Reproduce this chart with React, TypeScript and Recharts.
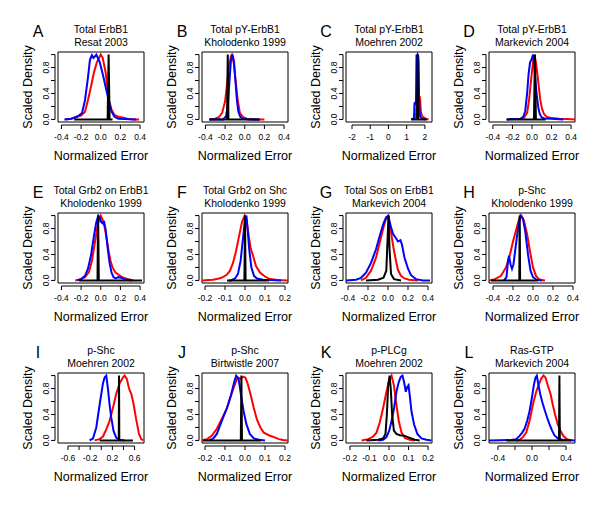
import { LineChart, Line, XAxis, YAxis, ReferenceArea, ReferenceLine } from 'recharts';

const FONT = '"Liberation Sans", Arial, Helvetica, sans-serif';

// panel text
const LETTERS = ['A', 'B', 'C', 'D', 'E', 'F', 'G', 'H', 'I', 'J', 'K', 'L'];
const TITLES_1 = [
  'Total ErbB1', 'Total pY-ErbB1', 'Total pY-ErbB1', 'Total pY-ErbB1',
  'Total Grb2 on ErbB1', 'Total Grb2 on Shc', 'Total Sos on ErbB1', 'p-Shc',
  'p-Shc', 'p-Shc', 'p-PLCg', 'Ras-GTP',
];
const TITLES_2 = [
  'Resat 2003', 'Kholodenko 1999', 'Moehren 2002', 'Markevich 2004',
  'Kholodenko 1999', 'Kholodenko 1999', 'Markevich 2004', 'Kholodenko 1999',
  'Moehren 2002', 'Birtwistle 2007', 'Moehren 2002', 'Markevich 2004',
];

// ticks
const Y_TICKS = [0, 0.2, 0.4, 0.6, 0.8, 1];
const Y_LABELED = [0, 0.4, 0.8];
const X_TICKS_04 = [-0.4, -0.2, 0, 0.2, 0.4];
const X_TICKS_02 = [-0.2, -0.1, 0, 0.1, 0.2];
const X_TICKS_2 = [-2, -1, 0, 1, 2];
const X_TICKS_06 = [-0.6, -0.4, -0.2, 0, 0.2, 0.4, 0.6];
const X_LABELED_06 = [-0.6, -0.2, 0.2, 0.6];
const X_LABELED_L = [-0.4, 0, 0.4];

// A
const A_RED_X = [-0.36, -0.3, -0.25, -0.2, -0.16, -0.13, -0.1, -0.07, -0.04, -0.01, 0.0, 0.02, 0.05, 0.08, 0.11, 0.14, 0.18, 0.22, 0.27, 0.33, 0.39];
const A_RED_Y = [0, 0.01, 0.04, 0.06, 0.12, 0.3, 0.5, 0.72, 0.88, 0.97, 1.0, 0.95, 0.72, 0.32, 0.15, 0.07, 0.04, 0.03, 0.01, 0, 0];
const A_BLUE_X = [-0.37, -0.3, -0.24, -0.19, -0.16, -0.13, -0.11, -0.09, -0.075, -0.06, -0.045, -0.03, -0.01, 0.02, 0.05, 0.08, 0.11, 0.14, 0.18, 0.25, 0.36];
const A_BLUE_Y = [0, 0.01, 0.04, 0.1, 0.3, 0.65, 0.92, 0.99, 0.95, 0.97, 1.0, 0.95, 0.88, 0.7, 0.5, 0.3, 0.12, 0.04, 0.01, 0.005, 0];
const A_BLK_X = [-0.27, 0.07, 0.076, 0.08, 0.084, 0.09, 0.12];
const A_BLK_Y = [0, 0, 0.6, 1.0, 0.6, 0, 0];

// B
const B_RED_X = [-0.36, -0.3, -0.26, -0.23, -0.2, -0.18, -0.16, -0.14, -0.13, -0.11, -0.09, -0.07, -0.05, -0.02, 0.02, 0.1, 0.2];
const B_RED_Y = [0, 0.01, 0.04, 0.1, 0.28, 0.55, 0.82, 0.98, 1.0, 0.85, 0.55, 0.28, 0.1, 0.04, 0.01, 0, 0];
const B_BLUE_X = [-0.36, -0.22, -0.19, -0.17, -0.155, -0.14, -0.125, -0.11, -0.095, -0.08, -0.065, -0.045, -0.02, 0.05, 0.15];
const B_BLUE_Y = [0, 0, 0.05, 0.25, 0.6, 0.92, 1.0, 0.9, 0.6, 0.3, 0.12, 0.04, 0.01, 0, 0];
const B_BLK_X = [-0.36, -0.18, -0.176, -0.173, -0.17, -0.166, 0.15];
const B_BLK_Y = [0, 0, 0.6, 1.0, 0.6, 0, 0];

// C
const C_RED_X = [1.35, 1.5, 1.58, 1.62, 1.65, 1.68, 1.71, 1.74, 1.78, 1.85, 1.95, 2.05, 2.2];
const C_RED_Y = [0, 0.02, 0.4, 1.0, 0.9, 0.3, 0.36, 0.3, 0.12, 0.05, 0.03, 0.01, 0];
const C_BLUE_X = [1.25, 1.4, 1.43, 1.47, 1.51, 1.54, 1.57, 1.6, 1.63, 1.66, 1.69, 1.74, 1.85, 2.0];
const C_BLUE_Y = [0, 0.02, 0.25, 0.26, 0.24, 1.0, 0.97, 1.0, 0.98, 0.6, 0.2, 0.04, 0.01, 0];
const C_BLK_X = [1.25, 1.57, 1.59, 1.6, 1.61, 1.63, 2.1];
const C_BLK_Y = [0, 0, 0.6, 1.0, 0.6, 0, 0];

// D
const D_RED_X = [-0.12, -0.08, -0.05, -0.03, -0.01, 0.01, 0.025, 0.04, 0.055, 0.07, 0.085, 0.1, 0.12, 0.15, 0.2, 0.28, 0.36, 0.44];
const D_RED_Y = [0, 0.03, 0.1, 0.3, 0.6, 0.88, 1.0, 0.88, 0.7, 0.5, 0.3, 0.18, 0.09, 0.04, 0.02, 0.01, 0.005, 0];
const D_BLUE_X = [-0.26, -0.12, -0.09, -0.07, -0.05, -0.035, -0.02, -0.005, 0.01, 0.02, 0.035, 0.05, 0.065, 0.08, 0.1, 0.13, 0.2, 0.32];
const D_BLUE_Y = [0, 0.01, 0.04, 0.12, 0.4, 0.7, 0.88, 0.92, 1.0, 0.9, 0.6, 0.35, 0.18, 0.08, 0.03, 0.015, 0.01, 0];
const D_BLK_X = [-0.26, 0.02, 0.026, 0.03, 0.034, 0.04, 0.14];
const D_BLK_Y = [0, 0, 0.6, 1.0, 0.6, 0, 0];

// E
const E_RED_X = [-0.26, -0.2, -0.16, -0.12, -0.09, -0.06, -0.035, -0.015, 0.0, 0.02, 0.04, 0.06, 0.08, 0.1, 0.12, 0.15, 0.19, 0.23, 0.28, 0.33];
const E_RED_Y = [0, 0.02, 0.05, 0.13, 0.3, 0.58, 0.82, 0.95, 1.0, 0.93, 0.82, 0.65, 0.45, 0.3, 0.2, 0.12, 0.08, 0.04, 0.02, 0];
const E_BLUE_X = [-0.24, -0.2, -0.16, -0.13, -0.1, -0.07, -0.045, -0.025, -0.01, 0.005, 0.02, 0.035, 0.05, 0.07, 0.09, 0.11, 0.13, 0.15, 0.18, 0.21, 0.24, 0.28, 0.32];
const E_BLUE_Y = [0, 0.02, 0.07, 0.18, 0.38, 0.68, 0.9, 1.0, 0.97, 0.9, 0.88, 0.9, 0.78, 0.5, 0.27, 0.12, 0.05, 0.03, 0.05, 0.04, 0.02, 0.005, 0];
const E_BLK_X = [-0.22, -0.033, -0.03, -0.027, -0.024, -0.02, 0.42];
const E_BLK_Y = [0, 0, 0.6, 1.0, 0.6, 0, 0];

// F
const F_RED_X = [-0.215, -0.16, -0.13, -0.11, -0.09, -0.075, -0.06, -0.045, -0.03, -0.015, -0.002, 0.008, 0.018, 0.028, 0.04, 0.055, 0.075, 0.1, 0.125, 0.16, 0.215];
const F_RED_Y = [0, 0.01, 0.03, 0.05, 0.09, 0.15, 0.27, 0.45, 0.68, 0.9, 1.0, 0.93, 0.7, 0.5, 0.38, 0.22, 0.12, 0.06, 0.02, 0.005, 0];
const F_BLUE_X = [-0.08, -0.07, -0.05, -0.035, -0.022, -0.01, 0.0, 0.007, 0.014, 0.022, 0.032, 0.045, 0.06, 0.09, 0.13, 0.18];
const F_BLUE_Y = [0, 0, 0.03, 0.1, 0.3, 0.65, 0.95, 1.0, 0.75, 0.45, 0.2, 0.07, 0.03, 0.01, 0.005, 0];
const F_BLK_X = [-0.09, -0.003, -0.001, 0.0, 0.001, 0.003, 0.12];
const F_BLK_Y = [0, 0, 0.6, 1.0, 0.6, 0, 0];

// G
const G_RED_X = [-0.27, -0.22, -0.17, -0.12, -0.08, -0.045, -0.015, 0.005, 0.03, 0.055, 0.08, 0.1, 0.13, 0.165, 0.21, 0.3];
const G_RED_Y = [0, 0.04, 0.15, 0.35, 0.6, 0.82, 0.97, 0.95, 0.75, 0.5, 0.3, 0.16, 0.07, 0.03, 0.01, 0];
const G_BLUE_X = [-0.42, -0.32, -0.27, -0.22, -0.17, -0.12, -0.08, -0.045, -0.02, 0.003, 0.025, 0.05, 0.08, 0.1, 0.125, 0.14, 0.165, 0.2, 0.23, 0.28, 0.35, 0.42];
const G_BLUE_Y = [0, 0.01, 0.04, 0.12, 0.27, 0.48, 0.7, 0.88, 0.97, 1.0, 0.85, 0.72, 0.65, 0.6, 0.62, 0.55, 0.35, 0.18, 0.08, 0.02, 0, 0];
const G_BLK_X = [-0.22, -0.1, -0.045, -0.017, -0.005, 0.005, 0.015, 0.03, 0.06, 0.13];
const G_BLK_Y = [0, 0.01, 0.04, 0.15, 0.6, 1.0, 0.5, 0.1, 0.02, 0];

// H
const H_RED_X = [-0.44, -0.38, -0.32, -0.27, -0.23, -0.2, -0.165, -0.135, -0.115, -0.09, -0.06, -0.03, 0.0, 0.03, 0.06, 0.09, 0.12];
const H_RED_Y = [0, 0.02, 0.07, 0.2, 0.4, 0.6, 0.8, 0.97, 1.0, 0.92, 0.72, 0.45, 0.2, 0.07, 0.02, 0.005, 0];
const H_BLUE_X = [-0.29, -0.265, -0.25, -0.24, -0.225, -0.21, -0.195, -0.175, -0.15, -0.125, -0.1, -0.077, -0.05, -0.025, 0.0, 0.035, 0.09];
const H_BLUE_Y = [0, 0.05, 0.3, 0.38, 0.25, 0.18, 0.25, 0.5, 0.8, 1.0, 0.95, 0.75, 0.4, 0.15, 0.05, 0.01, 0];
const H_BLK_X = [-0.42, -0.137, -0.135, -0.133, -0.131, -0.129, 0.05];
const H_BLK_Y = [0, 0, 0.6, 1.0, 0.6, 0, 0];

// I
const I_RED_X = [-0.12, -0.03, 0.03, 0.09, 0.15, 0.21, 0.27, 0.33, 0.39, 0.42, 0.46, 0.5, 0.54, 0.58, 0.63, 0.68, 0.72, 0.76];
const I_RED_Y = [0, 0.02, 0.06, 0.17, 0.3, 0.5, 0.72, 0.88, 0.97, 1.0, 0.95, 0.8, 0.72, 0.57, 0.32, 0.1, 0.02, 0];
const I_BLUE_X = [-0.21, -0.15, -0.09, -0.03, 0.03, 0.06, 0.09, 0.12, 0.15, 0.18, 0.22, 0.27, 0.33, 0.42];
const I_BLUE_Y = [0, 0.03, 0.2, 0.55, 0.88, 0.97, 1.0, 0.8, 0.55, 0.35, 0.15, 0.04, 0.01, 0];
const I_BLK_X = [-0.03, 0.315, 0.318, 0.32, 0.322, 0.325, 0.57];
const I_BLK_Y = [0, 0, 0.6, 1.0, 0.6, 0, 0];

// J
const J_RED_X = [-0.215, -0.19, -0.166, -0.141, -0.116, -0.09, -0.069, -0.049, -0.035, -0.024, -0.01, 0.002, 0.013, 0.027, 0.044, 0.06, 0.077, 0.094, 0.119, 0.145, 0.17, 0.19, 0.215];
const J_RED_Y = [0, 0.02, 0.07, 0.18, 0.33, 0.5, 0.7, 0.88, 0.97, 0.95, 0.98, 0.97, 0.88, 0.72, 0.5, 0.32, 0.2, 0.12, 0.08, 0.05, 0.02, 0.005, 0];
const J_BLUE_X = [-0.18, -0.158, -0.141, -0.116, -0.09, -0.07, -0.054, -0.044, -0.032, -0.02, -0.007, 0.007, 0.024, 0.044, 0.069, 0.1];
const J_BLUE_Y = [0, 0.03, 0.1, 0.3, 0.5, 0.7, 0.9, 1.0, 0.95, 0.7, 0.45, 0.25, 0.1, 0.03, 0.01, 0];
const J_BLK_X = [-0.21, -0.021, -0.019, -0.018, -0.017, -0.015, 0.08];
const J_BLK_Y = [0, 0, 0.6, 1.0, 0.6, 0, 0];

// K
const K_RED_X = [-0.14, -0.106, -0.081, -0.064, -0.047, -0.03, -0.013, 0.001, 0.013, 0.025, 0.038, 0.05, 0.064, 0.081, 0.106, 0.132];
const K_RED_Y = [0, 0.02, 0.06, 0.12, 0.28, 0.5, 0.75, 0.93, 1.0, 0.85, 0.55, 0.3, 0.12, 0.04, 0.01, 0];
const K_BLUE_X = [-0.055, -0.03, -0.013, 0.001, 0.013, 0.026, 0.038, 0.05, 0.06, 0.069, 0.077, 0.086, 0.093, 0.1, 0.106, 0.115, 0.128, 0.145, 0.166, 0.191, 0.217];
const K_BLUE_Y = [0, 0.01, 0.05, 0.15, 0.3, 0.5, 0.75, 0.9, 0.98, 1.0, 0.9, 0.75, 0.82, 0.85, 0.7, 0.45, 0.25, 0.1, 0.03, 0.01, 0];
const K_BLK_X = [-0.115, -0.055, -0.03, -0.018, -0.011, -0.004, 0.003, 0.009, 0.016, 0.025, 0.038, 0.055, 0.081, 0.106, 0.132, 0.157];
const K_BLK_Y = [0, 0.01, 0.03, 0.1, 0.4, 0.85, 1.0, 0.8, 0.4, 0.15, 0.1, 0.08, 0.07, 0.04, 0.01, 0];

// L
const L_RED_X = [-0.185, -0.146, -0.107, -0.068, -0.029, 0.01, 0.049, 0.076, 0.107, 0.135, 0.158, 0.185, 0.217, 0.244, 0.271, 0.302, 0.334, 0.373, 0.412, 0.459];
const L_RED_Y = [0, 0.01, 0.05, 0.12, 0.3, 0.55, 0.75, 0.85, 0.95, 1.0, 0.97, 0.85, 0.72, 0.55, 0.4, 0.25, 0.15, 0.06, 0.02, 0];
const L_BLUE_X = [-0.505, -0.244, -0.185, -0.146, -0.115, -0.088, -0.057, -0.029, -0.002, 0.021, 0.041, 0.057, 0.076, 0.096, 0.119, 0.146, 0.178, 0.205, 0.236, 0.263, 0.302, 0.361, 0.505];
const L_BLUE_Y = [0, 0.005, 0.02, 0.07, 0.12, 0.18, 0.3, 0.45, 0.65, 0.85, 0.97, 1.0, 0.85, 0.72, 0.6, 0.48, 0.35, 0.25, 0.15, 0.08, 0.03, 0.01, 0];
const L_BLK_X = [-0.3, 0.317, 0.32, 0.322, 0.324, 0.327, 0.46];
const L_BLK_Y = [0, 0, 0.6, 1.0, 0.6, 0, 0];

const pts = (xs: number[], ys: number[]) => xs.map((x, i) => ({ x, y: ys[i] }));

// layout
const COL_X = [58, 202, 346, 489];
const ROW_Y = [52, 213, 373];
const BW = 86;
const BH = 70;
const YAXIS_W = 40;
const XAXIS_H = 30;
const ML = 20;
const MT = 40;
const MR = 10;

type PanelDef = {
  domain: [number, number];
  ticks: number[];
  labeled: number[];
  digits: number;
  red: { x: number; y: number }[];
  blue: { x: number; y: number }[];
  black: { x: number; y: number }[];
};

const PANELS: PanelDef[] = [
  { domain: [-0.435, 0.44], ticks: X_TICKS_04, labeled: X_TICKS_04, digits: 1, red: pts(A_RED_X, A_RED_Y), blue: pts(A_BLUE_X, A_BLUE_Y), black: pts(A_BLK_X, A_BLK_Y) },
  { domain: [-0.435, 0.44], ticks: X_TICKS_04, labeled: X_TICKS_04, digits: 1, red: pts(B_RED_X, B_RED_Y), blue: pts(B_BLUE_X, B_BLUE_Y), black: pts(B_BLK_X, B_BLK_Y) },
  { domain: [-2.33, 2.39], ticks: X_TICKS_2, labeled: X_TICKS_2, digits: 0, red: pts(C_RED_X, C_RED_Y), blue: pts(C_BLUE_X, C_BLUE_Y), black: pts(C_BLK_X, C_BLK_Y) },
  { domain: [-0.44, 0.44], ticks: X_TICKS_04, labeled: X_TICKS_04, digits: 1, red: pts(D_RED_X, D_RED_Y), blue: pts(D_BLUE_X, D_BLUE_Y), black: pts(D_BLK_X, D_BLK_Y) },
  { domain: [-0.435, 0.44], ticks: X_TICKS_04, labeled: X_TICKS_04, digits: 1, red: pts(E_RED_X, E_RED_Y), blue: pts(E_BLUE_X, E_BLUE_Y), black: pts(E_BLK_X, E_BLK_Y) },
  { domain: [-0.215, 0.215], ticks: X_TICKS_02, labeled: X_TICKS_02, digits: 1, red: pts(F_RED_X, F_RED_Y), blue: pts(F_BLUE_X, F_BLUE_Y), black: pts(F_BLK_X, F_BLK_Y) },
  { domain: [-0.42, 0.44], ticks: X_TICKS_04, labeled: X_TICKS_04, digits: 1, red: pts(G_RED_X, G_RED_Y), blue: pts(G_BLUE_X, G_BLUE_Y), black: pts(G_BLK_X, G_BLK_Y) },
  { domain: [-0.44, 0.42], ticks: X_TICKS_04, labeled: X_TICKS_04, digits: 1, red: pts(H_RED_X, H_RED_Y), blue: pts(H_BLUE_X, H_BLUE_Y), black: pts(H_BLK_X, H_BLK_Y) },
  { domain: [-0.78, 0.77], ticks: X_TICKS_06, labeled: X_LABELED_06, digits: 1, red: pts(I_RED_X, I_RED_Y), blue: pts(I_BLUE_X, I_BLUE_Y), black: pts(I_BLK_X, I_BLK_Y) },
  { domain: [-0.215, 0.215], ticks: X_TICKS_02, labeled: X_TICKS_02, digits: 1, red: pts(J_RED_X, J_RED_Y), blue: pts(J_BLUE_X, J_BLUE_Y), black: pts(J_BLK_X, J_BLK_Y) },
  { domain: [-0.22, 0.22], ticks: X_TICKS_02, labeled: X_TICKS_02, digits: 1, red: pts(K_RED_X, K_RED_Y), blue: pts(K_BLUE_X, K_BLUE_Y), black: pts(K_BLK_X, K_BLK_Y) },
  { domain: [-0.505, 0.505], ticks: X_TICKS_04, labeled: X_LABELED_L, digits: 1, red: pts(L_RED_X, L_RED_Y), blue: pts(L_BLUE_X, L_BLUE_Y), black: pts(L_BLK_X, L_BLK_Y) },
];

const has = (list: number[], v: number) => list.some((l) => Math.abs(l - v) < 1e-9);

function XTick(props: any) {
  const { x, y, payload, labeled, digits } = props;
  const v = payload.value as number;
  return (
    <g>
      <line x1={x} x2={x} y1={y + 3} y2={y + 7} stroke="#000" strokeWidth={1} />
      {has(labeled, v) && (
        <text x={x} y={y + 18} textAnchor="middle" fontSize={8.5} fontFamily={FONT} fill="#000">
          {Math.abs(v) < 1e-9 ? (0).toFixed(digits) : v.toFixed(digits)}
        </text>
      )}
    </g>
  );
}

function YTick(props: any) {
  const { x, y, payload } = props;
  const v = payload.value as number;
  return (
    <g>
      <line x1={x - 3} x2={x - 7} y1={y} y2={y} stroke="#000" strokeWidth={1} />
      {has(Y_LABELED, v) && (
        <text transform={`translate(${x - 9},${y}) rotate(-90)`} textAnchor="middle" fontSize={8.5} fontFamily={FONT} fill="#000">
          {v.toFixed(1)}
        </text>
      )}
    </g>
  );
}

function Panel({ p, i }: { p: PanelDef; i: number }) {
  const bx = COL_X[i % 4];
  const by = ROW_Y[Math.floor(i / 4)];
  const [d0, d1] = p.domain;
  const dx = ((d1 - d0) / BW) * 3;
  const dy = (1.08 / BH) * 3;
  const text = { position: 'absolute' as const, whiteSpace: 'nowrap' as const, lineHeight: 1, fontFamily: FONT, color: '#000' };
  return (
    <>
      <div style={{ position: 'absolute', left: bx - ML - YAXIS_W, top: by - MT }}>
        <LineChart width={ML + YAXIS_W + BW + MR} height={MT + BH + XAXIS_H} margin={{ top: MT, right: MR, bottom: 0, left: ML }}>
          <XAxis
            type="number"
            dataKey="x"
            domain={p.domain}
            ticks={p.ticks}
            interval={0}
            allowDataOverflow
            height={XAXIS_H}
            tickSize={0}
            tickMargin={0}
            axisLine={false}
            tickLine={false}
            tick={(tp: any) => <XTick {...tp} labeled={p.labeled} digits={p.digits} />}
          />
          <YAxis
            type="number"
            dataKey="y"
            domain={[-0.04, 1.04]}
            ticks={Y_TICKS}
            interval={0}
            allowDataOverflow
            width={YAXIS_W}
            tickSize={0}
            tickMargin={0}
            axisLine={false}
            tickLine={false}
            tick={(tp: any) => <YTick {...tp} />}
          />
          <ReferenceArea x1={d0} x2={d1} y1={-0.04} y2={1.04} fill="none" stroke="#000" strokeWidth={1} ifOverflow="visible" />
          <ReferenceLine
            segment={[{ x: p.ticks[0], y: -0.04 - dy }, { x: p.ticks[p.ticks.length - 1], y: -0.04 - dy }]}
            stroke="#000"
            strokeWidth={1}
            ifOverflow="visible"
          />
          <ReferenceLine
            segment={[{ x: d0 - dx, y: 0 }, { x: d0 - dx, y: 1 }]}
            stroke="#000"
            strokeWidth={1}
            ifOverflow="visible"
          />
          <Line data={p.red} dataKey="y" type="linear" stroke="#ff0000" strokeWidth={2} dot={false} isAnimationActive={false} />
          <Line data={p.blue} dataKey="y" type="linear" stroke="#0000ff" strokeWidth={2} dot={false} isAnimationActive={false} />
          <Line data={p.black} dataKey="y" type="linear" stroke="#000000" strokeWidth={2} dot={false} isAnimationActive={false} />
        </LineChart>
      </div>
      <div style={{ ...text, left: bx - 20, top: by - 20, fontSize: 16, transform: 'translate(-50%,-50%)' }}>{LETTERS[i]}</div>
      <div style={{ ...text, left: bx + BW / 2, top: by - 23, fontSize: 10.5, transform: 'translate(-50%,-50%)' }}>{TITLES_1[i]}</div>
      <div style={{ ...text, left: bx + BW / 2, top: by - 10, fontSize: 10.5, transform: 'translate(-50%,-50%)' }}>{TITLES_2[i]}</div>
      <div style={{ ...text, left: bx + BW / 2, top: by + BH + 34, fontSize: 12.5, transform: 'translate(-50%,-50%)' }}>Normalized Error</div>
      <div style={{ ...text, left: bx - 30, top: by + BH / 2, fontSize: 12.5, transform: 'translate(-50%,-50%) rotate(-90deg)' }}>Scaled Density</div>
    </>
  );
}

export default function App() {
  return (
    <div style={{ position: 'absolute', left: 0, top: 0, width: 600, height: 505, background: '#fff', overflow: 'hidden' }}>
      {PANELS.map((p, i) => (
        <Panel key={i} p={p} i={i} />
      ))}
    </div>
  );
}
